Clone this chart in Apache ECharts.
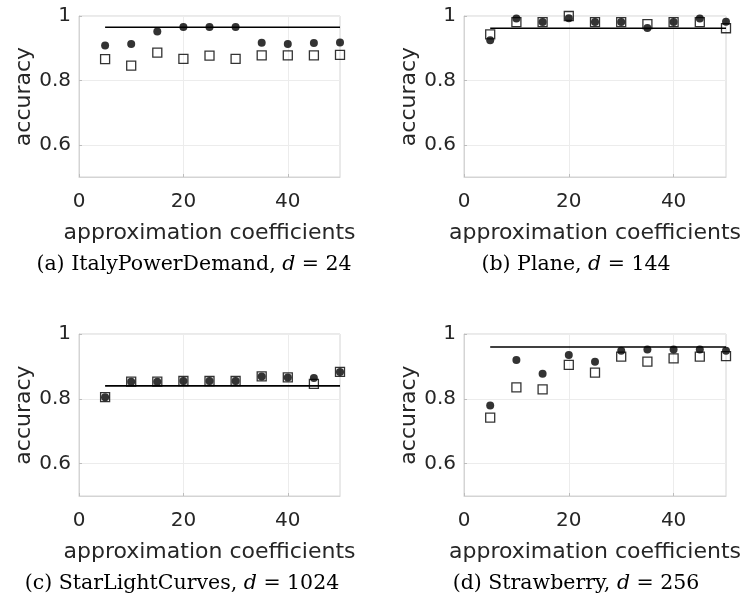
<!DOCTYPE html>
<html><head><meta charset="utf-8">
<script src="https://cdn.jsdelivr.net/npm/echarts@6/dist/echarts.min.js"></script>
<style>html,body{margin:0;padding:0;background:#fff}#c{width:745px;height:603px}</style>
</head><body><div id="c"></div>
<script>
const coeffs = [5, 10, 15, 20, 25, 30, 35, 40, 45, 50];
const xTicks = [0, 20, 40];
const yTicks = [0.6, 0.8, 1];

// (a) ItalyPowerDemand
const aBase = 0.965;
const aDots = [0.908, 0.913, 0.952, 0.966, 0.966, 0.966, 0.917, 0.913, 0.916, 0.918];
const aSquares = [0.866, 0.846, 0.886, 0.867, 0.877, 0.867, 0.878, 0.878, 0.878, 0.879];
// (b) Plane
const bBase = 0.962;
const bDots = [0.925, 0.992, 0.981, 0.993, 0.981, 0.981, 0.963, 0.981, 0.992, 0.982];
const bSquares = [0.943, 0.981, 0.981, 1.0, 0.981, 0.981, 0.975, 0.981, 0.981, 0.962];
// (c) StarLightCurves
const cBase = 0.84;
const cDots = [0.805, 0.853, 0.853, 0.855, 0.855, 0.855, 0.869, 0.866, 0.864, 0.883];
const cSquares = [0.805, 0.853, 0.853, 0.855, 0.855, 0.855, 0.869, 0.866, 0.846, 0.883];
// (d) Strawberry
const dBase = 0.96;
const dDots = [0.779, 0.92, 0.877, 0.935, 0.914, 0.948, 0.952, 0.952, 0.952, 0.948];
const dSquares = [0.742, 0.835, 0.829, 0.905, 0.881, 0.93, 0.915, 0.925, 0.93, 0.932];

const captions = [
  {pre: '(a) ItalyPowerDemand, ', post: ' = 24', x: 194, y: 265},
  {pre: '(b) Plane, ', post: ' = 144', x: 576, y: 265},
  {pre: '(c) StarLightCurves, ', post: ' = 1024', x: 182, y: 584},
  {pre: '(d) Strawberry, ', post: ' = 256', x: 576, y: 584}
];

const panels = [
  {base: aBase, dots: aDots, squares: aSquares},
  {base: bBase, dots: bDots, squares: bSquares},
  {base: cBase, dots: cDots, squares: cSquares},
  {base: dBase, dots: dDots, squares: dSquares}
];
const grids = [
  {left: 79, top: 16, width: 261, height: 161},
  {left: 464, top: 16, width: 262, height: 161},
  {left: 79, top: 334, width: 261, height: 162},
  {left: 464, top: 334, width: 262, height: 162}
];
const txt = '#262626';
const FONT = 'DejaVu Sans, sans-serif';
const option = {
  backgroundColor: '#fff',
  animation: false,
  grid: grids.map(g => Object.assign({show: true, borderColor: '#d4d4d4', borderWidth: 1, containLabel: false}, g)),
  xAxis: grids.map((g, i) => ({
    gridIndex: i, type: 'value', min: 0, max: 50,
    name: 'approximation coefficients', nameLocation: 'middle', nameGap: 45,
    nameTextStyle: {fontSize: 22, color: txt, fontFamily: FONT},
    axisLine: {show: true, lineStyle: {color: '#d4d4d4'}},
    axisTick: {show: true, inside: true, length: 3, customValues: xTicks, lineStyle: {color: '#bdbdbd'}},
    axisLabel: {customValues: xTicks, fontSize: 20, color: txt, fontFamily: FONT, margin: 15},
    splitLine: {show: true, lineStyle: {color: '#ececec', width: 1}}
  })),
  yAxis: grids.map((g, i) => ({
    gridIndex: i, type: 'value', min: 0.5, max: 1,
    name: 'accuracy', nameLocation: 'middle', nameGap: 40, nameRotate: 90,
    nameTextStyle: {fontSize: 22, color: txt, fontFamily: FONT},
    axisLine: {show: true, lineStyle: {color: '#d4d4d4'}},
    axisTick: {show: true, inside: true, length: 3, customValues: yTicks, lineStyle: {color: '#bdbdbd'}},
    axisLabel: {customValues: yTicks, fontSize: 20, color: txt, fontFamily: FONT, margin: 8,
      formatter: v => (Math.abs(v - 1) < 1e-9 ? '1' : String(Math.round(v * 10) / 10))},
    splitLine: {show: true, lineStyle: {color: '#ececec', width: 1}}
  })),
  series: [],
  graphic: captions.map(c => ({
    type: 'text', x: c.x, y: c.y,
    style: {
      text: '{n|' + c.pre + '}{i|d}{n|' + c.post + '}',
      align: 'center', verticalAlign: 'middle',
      rich: {
        n: {fontFamily: 'DejaVu Serif, serif', fontSize: 20.5, fill: '#000'},
        i: {fontFamily: 'DejaVu Serif, serif', fontSize: 20.5, fontStyle: 'italic', fill: '#000'}
      }
    }
  }))
};
panels.forEach((p, i) => {
  option.series.push({
    type: 'line', xAxisIndex: i, yAxisIndex: i, symbol: 'none', z: 2,
    data: [[coeffs[0], p.base], [coeffs[coeffs.length - 1], p.base]],
    lineStyle: {color: '#000', width: 1.6}
  });
  option.series.push({
    type: 'scatter', xAxisIndex: i, yAxisIndex: i, symbol: 'rect', symbolSize: 9, z: 3,
    data: coeffs.map((x, k) => [x, p.squares[k]]),
    itemStyle: {color: 'rgba(255,255,255,0)', borderColor: '#000', borderWidth: 1.3}
  });
  option.series.push({
    type: 'scatter', xAxisIndex: i, yAxisIndex: i, symbol: 'circle', symbolSize: 8, z: 4,
    data: coeffs.map((x, k) => [x, p.dots[k]]),
    itemStyle: {color: '#000'}
  });
});
echarts.init(document.getElementById('c')).setOption(option);
</script></body></html>
